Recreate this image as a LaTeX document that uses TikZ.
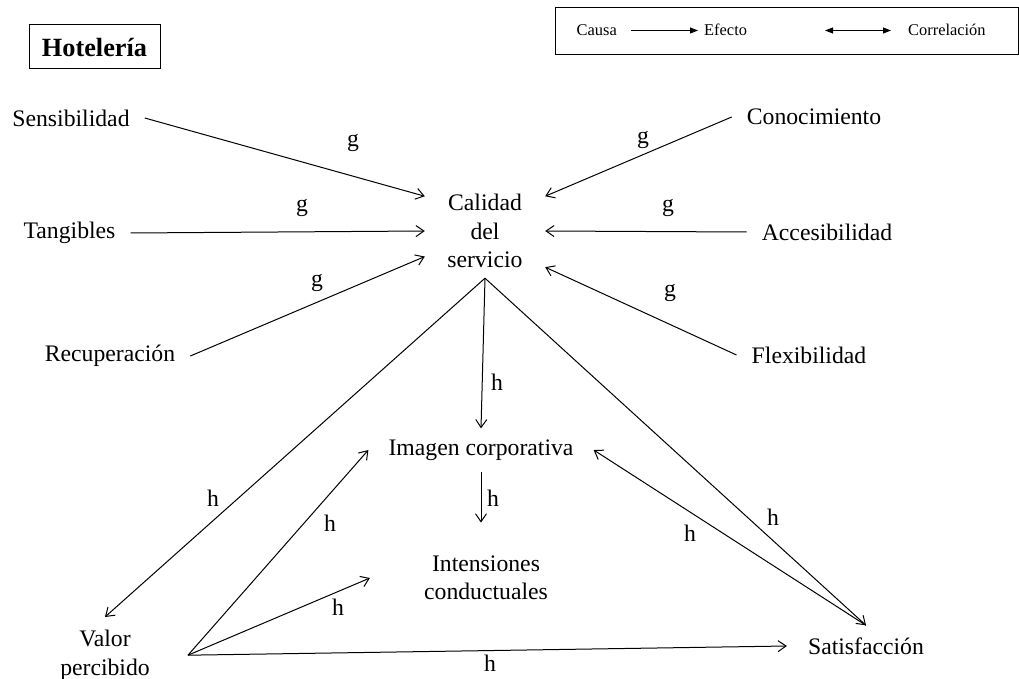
\documentclass[tikz,border=0pt]{standalone}
\usepackage{fontspec}
\setmainfont{Liberation Serif}
\usepackage{tikz}
\usetikzlibrary{arrows.meta}
\tikzstyle{var} = [inner xsep=15pt, inner ysep=0pt]
\tikzstyle{lab} = [inner sep=0pt]
\tikzstyle{arr} = [-{Straight Barb[length=8pt,width=11pt]}, line width=1pt]
\tikzstyle{legtxt} = [font=\fontsize{16.4pt}{19pt}\selectfont, text height=11pt, text depth=0pt, inner ysep=0pt]
\tikzstyle{legarr} = [-{Triangle[length=8pt,width=6pt]}, line width=0.9pt]
\tikzstyle{legboth} = [{Triangle[length=8pt,width=6pt]}-{Triangle[length=8pt,width=6pt]}, line width=0.9pt]

\begin{document}
\begin{tikzpicture}[x=1pt,y=1pt]
\tikzset{every node/.style={font=\fontsize{23.7pt}{28.5pt}\selectfont}}
\useasboundingbox (0,0) rectangle (1019,-679);

% legend
\draw[line width=1pt] (555,-8) rectangle (1018,-55);
\node[legtxt, anchor=east, inner xsep=14pt] (causa) at (631,-30.5) {Causa};
\node[legtxt, anchor=west, inner xsep=6pt] (efecto) at (698,-30.5) {Efecto};
\coordinate (lcor) at (825,-30.5);
\node[legtxt, anchor=west, inner xsep=17pt] (correl) at (891,-30.5) {Correlación};
\draw[legarr] (causa) -- (efecto);
\draw[legboth] (lcor) -- (correl);

\node[draw, line width=1pt, font=\bfseries\fontsize{26.3pt}{30pt}\selectfont, minimum width=131pt, minimum height=44pt] (hotel) at (94.5,-47) {Hotelería};

% dimensions
\node[var] (sens) at (71,-118) {Sensibilidad};
\node[var] (tang) at (69.5,-233) {Tangibles};
\node[var] (recu) at (110,-356) {Recuperación};
\node[var] (cono) at (814,-117) {Conocimiento};
\node[var] (acce) at (827,-232) {Accesibilidad};
\node[var] (flex) at (809,-355) {Flexibilidad};

\node[align=center, inner sep=0pt, minimum width=120pt, minimum height=74pt] (cal) at (485,-231) {Calidad\\del\\servicio};
\coordinate (calb) at ([yshift=-10pt]cal.south);
\node[inner xsep=20pt, inner ysep=11pt] (imagen) at (481,-450) {Imagen corporativa};
\node[align=center, inner xsep=54pt, inner ysep=33pt] (intens) at (486,-578) {Intensiones\\conductuales};
\node[align=center, anchor=north, inner xsep=38pt, inner ysep=13pt] (valor) at (105,-617) {Valor\\percibido};
\node[inner xsep=21pt, inner ysep=12pt] (satis) at (866,-646) {Satisfacción};

\foreach \from/\to in {sens.east/cal.150,tang.east/cal.180,recu.east/cal.203,cono.west/cal.30,acce.west/cal.0,flex.west/cal.329}
{
	\draw[arr] (\from) -- (\to);
}
\foreach \from/\to in {calb/imagen.north,calb/valor.north,calb/satis.north,valor.east/imagen.west,valor.east/intens.west,valor.east/satis.west,satis.north/imagen.east}
{
	\draw[arr] (\from) -- (\to);
}
\draw[arr] (imagen.south) -- (imagen.south |- intens.north);

\foreach \n/\x/\y in {g1/353/143,g2/302/208,g3/317/283,g4/643/140,g5/668/208,g6/670/293}
	\node[lab] (\n) at (\x,-\y) {g};
\foreach \n/\x/\y in {h1/497/382,h2/213/498,h3/493/498,h4/330/523,h5/338/607,h6/490/663,h7/690/533,h8/773/517}
	\node[lab] (\n) at (\x,-\y) {h};

\end{tikzpicture}
\end{document}
